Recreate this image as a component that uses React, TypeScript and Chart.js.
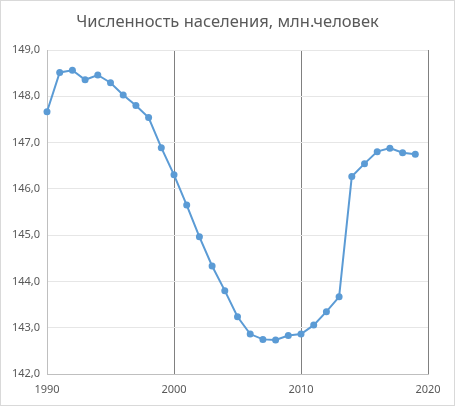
import {useEffect, useRef} from 'react'
import Chart from 'chart.js/auto'

// годы по оси X и численность населения (млн)
const years = [
  1990, 1991, 1992, 1993, 1994, 1995, 1996, 1997, 1998, 1999,
  2000, 2001, 2002, 2003, 2004, 2005, 2006, 2007, 2008, 2009,
  2010, 2011, 2012, 2013, 2014, 2015, 2016, 2017, 2018, 2019,
]
const population = [
  147.665, 148.515, 148.562, 148.356, 148.46, 148.292, 148.029, 147.802, 147.539, 146.89,
  146.304, 145.649, 144.964, 144.333, 143.801, 143.236, 142.863, 142.748, 142.737, 142.833,
  142.865, 143.056, 143.347, 143.667, 146.267, 146.545, 146.804, 146.88, 146.781, 146.749,
]
const yTicks = [142, 143, 144, 145, 146, 147, 148, 149]
const xTicks = [1990, 2000, 2010, 2020]

const title = 'Численность населения, млн.человек'
const font = '"Noto Sans", "DejaVu Sans", sans-serif'

function App() {
  const chartRef = useRef<HTMLCanvasElement | null>(null)

  useEffect(() => {
    document.body.style.margin = '0'
    const data = years.map((year, i) => ({x: year, y: population[i]}))

    const myChart = new Chart(chartRef.current!, {
      type: 'line',
      data: {
        datasets: [
          {
            label: title,
            data,
            borderColor: '#5b9bd5',
            backgroundColor: '#5b9bd5',
            borderWidth: 2,
            pointRadius: 3.5,
            pointBorderWidth: 0,
            tension: 0,
            clip: false,
          },
        ],
      },
      options: {
        responsive: false,
        animation: false,
        layout: {padding: 0},
        plugins: {
          legend: {display: false},
          tooltip: {enabled: false},
          title: {
            display: true,
            text: title,
            color: '#595959',
            font: {family: font, size: 16.5, weight: 'normal', lineHeight: 1.2},
            padding: {top: 11, bottom: 18.2},
          },
        },
        scales: {
          x: {
            type: 'linear',
            min: xTicks[0],
            max: xTicks[xTicks.length - 1],
            afterBuildTicks: (scale: any) => {
              scale.ticks = xTicks.map((v) => ({value: v}))
            },
            afterFit: (scale: any) => {
              scale.height = 31
              scale.paddingRight = 26
            },
            ticks: {
              color: '#595959',
              font: {family: font, size: 11},
              padding: 9,
              maxRotation: 0,
              callback: (v: any) => String(v),
            },
            grid: {
              color: (ctx: any) => (ctx.index === 0 ? '#bfbfbf' : '#808080'),
              lineWidth: 1,
              drawTicks: false,
            },
            border: {color: '#bfbfbf'},
          },
          y: {
            min: yTicks[0],
            max: yTicks[yTicks.length - 1],
            afterBuildTicks: (scale: any) => {
              scale.ticks = yTicks.map((v) => ({value: v}))
            },
            afterFit: (scale: any) => {
              scale.width = 46
            },
            ticks: {
              color: '#595959',
              font: {family: font, size: 11},
              padding: 7,
              callback: (v: any) => Number(v).toFixed(1).replace('.', ','),
            },
            grid: {color: '#e6e6e6', lineWidth: 1, drawTicks: false},
            border: {color: '#bfbfbf'},
          },
        },
      },
    })

    return () => {
      myChart.destroy()
    }
  }, [])

  return (
    <div
      style={{
        width: 455,
        height: 406,
        boxSizing: 'border-box',
        border: '1px solid #d9d9d9',
        background: '#fff',
      }}
    >
      <canvas ref={chartRef} width={453} height={404} style={{display: 'block'}} />
    </div>
  )
}

export default App
